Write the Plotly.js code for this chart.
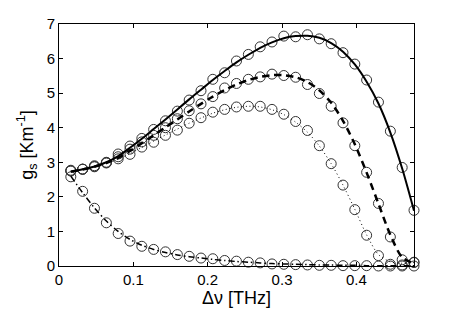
<!DOCTYPE html>
<html>
<head>
<meta charset="utf-8">
<script src="https://cdn.plot.ly/plotly-3.0.1.min.js"></script>
<style>html,body{margin:0;padding:0;background:#fff;}#chart{width:457px;height:311px;}</style>
</head>
<body>
<div id="chart"></div>
<script>
// Frequency offset [THz]
var freq = [0.0159,0.0318,0.0477,0.0637,0.0796,0.0955,0.1114,0.1273,0.1432,0.1592,
            0.1751,0.1910,0.2069,0.2228,0.2387,0.2547,0.2706,0.2865,0.3024,0.3183,
            0.3342,0.3502,0.3661,0.3820,0.3979,0.4138,0.4297,0.4457,0.4616,0.4775];

// measured gain (markers)
var meas1 = [2.77,2.80,2.90,3.00,3.24,3.47,3.69,3.95,4.20,4.48,4.80,5.07,5.40,5.59,5.93,6.12,6.34,6.48,6.65,6.63,6.69,6.57,6.43,6.17,5.84,5.38,4.74,3.90,2.85,1.61];
var meas2 = [2.75,2.80,2.87,2.99,3.16,3.38,3.59,3.78,4.00,4.26,4.49,4.69,4.90,5.15,5.28,5.40,5.47,5.55,5.51,5.46,5.25,4.99,4.62,4.14,3.48,2.71,1.81,0.84,0.18,0.11];
var meas3 = [2.75,2.80,2.88,2.98,3.10,3.23,3.44,3.58,3.78,3.93,4.13,4.29,4.45,4.53,4.60,4.62,4.62,4.53,4.39,4.18,3.92,3.48,2.96,2.34,1.63,0.89,0.30,0.05,0.03,0.10];
var meas4 = [2.58,2.16,1.67,1.25,0.94,0.72,0.57,0.48,0.41,0.33,0.28,0.23,0.21,0.16,0.14,0.11,0.09,0.06,0.05,0.04,0.03,0.02,0.02,0.01,0.01,0.01,0.00,0.00,0.00,0.00];

// model curves (lines)
var fit1 = [2.73,2.80,2.88,3.00,3.18,3.42,3.68,3.96,4.24,4.53,4.82,5.10,5.38,5.64,5.89,6.11,6.31,6.47,6.59,6.65,6.66,6.60,6.45,6.20,5.83,5.33,4.70,3.86,2.82,1.60];
var fit2 = [2.73,2.79,2.87,2.98,3.13,3.33,3.55,3.78,4.01,4.24,4.47,4.69,4.90,5.09,5.25,5.38,5.47,5.52,5.52,5.46,5.32,5.08,4.72,4.20,3.52,2.70,1.80,0.90,0.25,0.08];
var fit3 = [2.73,2.79,2.86,2.96,3.09,3.25,3.43,3.61,3.79,3.96,4.13,4.28,4.42,4.52,4.59,4.62,4.60,4.52,4.38,4.16,3.87,3.47,2.96,2.34,1.64,0.90,0.33,0.12,0.08,0.10];
var fit4 = [2.60,2.12,1.68,1.30,1.00,0.77,0.60,0.48,0.39,0.32,0.27,0.23,0.19,0.16,0.13,0.11,0.09,0.07,0.06,0.05,0.04,0.03,0.03,0.02,0.02,0.01,0.01,0.01,0.01,0.01];

var xTicks = [0,0.1,0.2,0.3,0.4];
var xTickText = ['0','0.1','0.2','0.3','0.4'];
var yTicks = [0,1,2,3,4,5,6,7];
var yTickText = ['0','1','2','3','4','5','6','7'];

var markerStyle = {symbol:'circle-open', size:10, color:'#333', line:{width:1, color:'#333'}};
function mk(y){ return {x:freq, y:y, mode:'markers', type:'scatter', marker:markerStyle, hoverinfo:'skip', showlegend:false, cliponaxis:false}; }
function ln(y, dash, w){ return {x:freq, y:y, mode:'lines', type:'scatter', line:{color:'#000', width:w, dash:dash, shape:'spline', smoothing:0.8}, showlegend:false, cliponaxis:false}; }

var data = [
  mk(meas1), mk(meas2), mk(meas3), mk(meas4),
  ln(fit1,'solid',2),
  ln(fit2,'7px,5px',2.5),
  ln(fit3,'1px,3px',1),
  ln(fit4,'6px,3px,1.5px,3px',1.5)
];

var tickFont = {family:'Liberation Sans, Arial, sans-serif', size:15, color:'#000'};
var titleFont = {family:'Liberation Sans, Arial, sans-serif', size:18, color:'#000'};
var layout = {
  width:457, height:311,
  margin:{l:59, r:43, t:24, b:45, pad:0},
  paper_bgcolor:'#fff', plot_bgcolor:'#fff',
  font:tickFont,
  xaxis:{range:[0,0.4775], tickvals:xTicks, ticktext:xTickText, ticks:'inside', ticklen:4, tickcolor:'#000',
         showline:true, linecolor:'#000', linewidth:1, mirror:'ticks', showgrid:false, zeroline:false,
         tickfont:tickFont, title:{text:'Δν [THz]', font:titleFont, standoff:1}},
  yaxis:{range:[0,7], tickvals:yTicks, ticktext:yTickText, ticks:'inside', ticklen:4, tickcolor:'#000',
         showline:true, linecolor:'#000', linewidth:1, mirror:'ticks', showgrid:false, zeroline:false,
         tickfont:tickFont, title:{text:'g<sub>s</sub> [Km<sup>-1</sup>]', font:titleFont, standoff:8}}
};
Plotly.newPlot('chart', data, layout, {staticPlot:true, displayModeBar:false});
</script>
</body>
</html>
